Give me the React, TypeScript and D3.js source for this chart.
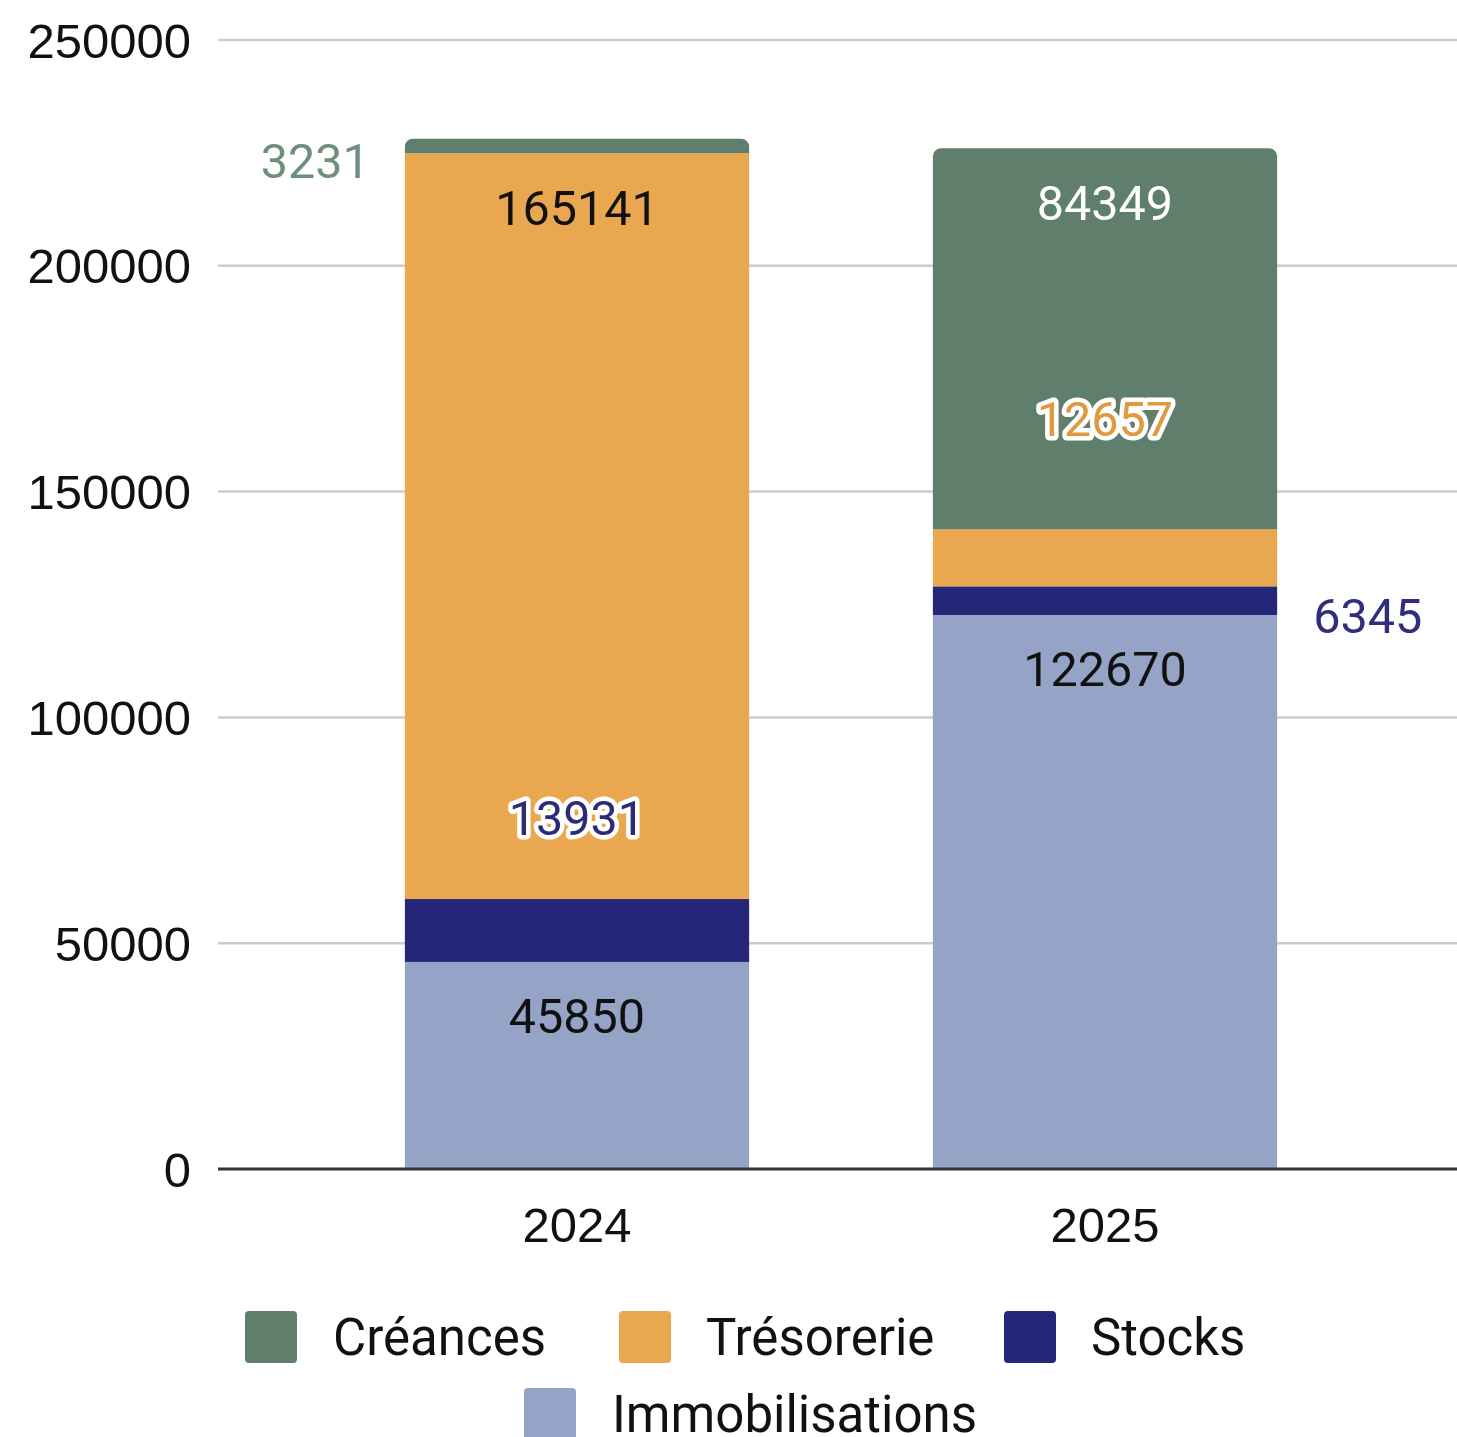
import * as d3 from "d3";

// chart data
const years = ["2024", "2025"];
const seriesNames = ["Immobilisations", "Stocks", "Trésorerie", "Créances"];
const immobilisations = [45850, 122670];
const stocks = [13931, 6345];
const tresorerie = [165141, 12657];
const creances = [3231, 84349];
const yTicks = [0, 50000, 100000, 150000, 200000, 250000];

const colors: Record<string, string> = {
  "Créances": "#5f7e6b",
  "Trésorerie": "#e9a74f",
  "Stocks": "#262679",
  "Immobilisations": "#95a4c6",
};

// how Google placed each value label (inside, beside, or pushed up with a halo)
const labelStyle: Record<string, { mode: string; fill: string; dy?: number }> = {
  "Immobilisations-2024": { mode: "inside", fill: "#111" },
  "Immobilisations-2025": { mode: "inside", fill: "#111" },
  "Stocks-2024": { mode: "halo", fill: "#2b2b78", dy: -81 },
  "Stocks-2025": { mode: "right", fill: "#2e2e7c" },
  "Trésorerie-2024": { mode: "inside", fill: "#111" },
  "Trésorerie-2025": { mode: "halo", fill: "#e09a3e", dy: -111 },
  "Créances-2024": { mode: "left", fill: "#6f8f7c" },
  "Créances-2025": { mode: "inside", fill: "#ffffff" },
};

const width = 1457;
const height = 1437;

export default function App() {
  const rows = years.map((year, i) => ({
    year,
    Immobilisations: immobilisations[i],
    Stocks: stocks[i],
    "Trésorerie": tresorerie[i],
    "Créances": creances[i],
  }));

  const stacked = d3.stack<any>().keys(seriesNames)(rows);

  const x = d3.scaleBand()
    .domain(years)
    .range([313, 1369])
    .paddingInner(0.348)
    .paddingOuter(0.174);

  const y = d3.scaleLinear().domain([0, 250000]).range([1169, 40]);

  const gridLeft = 218;
  const gridRight = 1457;
  const bw = x.bandwidth();
  const r = 8;

  // rounded-top rectangle for the last segment of each bar
  const roundTop = (x0: number, y0: number, w: number, h: number) => {
    const p = d3.path();
    p.moveTo(x0, y0 + h);
    p.lineTo(x0, y0 + r);
    p.arcTo(x0, y0, x0 + r, y0, r);
    p.lineTo(x0 + w - r, y0);
    p.arcTo(x0 + w, y0, x0 + w, y0 + r, r);
    p.lineTo(x0 + w, y0 + h);
    p.closePath();
    return p.toString();
  };

  const dataFont = "Roboto, 'Liberation Sans', sans-serif";
  const axisFont = "'Liberation Sans', Arial, sans-serif";

  const labels: any[] = [];
  stacked.forEach((layer) => {
    layer.forEach((d: any) => {
      const year = d.data.year;
      const name = layer.key;
      const st = labelStyle[`${name}-${year}`];
      const x0 = x(year)!;
      const top = y(d[1]);
      const bottom = y(d[0]);
      let lx = x0 + bw / 2;
      let ly = top + 54;
      let anchor = "middle";
      if (st.mode === "left") {
        lx = x0 - 35;
        ly = (top + bottom) / 2 + 15;
        anchor = "end";
      } else if (st.mode === "right") {
        lx = x0 + bw + 36;
        ly = (top + bottom) / 2 + 15;
        anchor = "start";
      } else if (st.mode === "halo") {
        ly = top + (st.dy || 0);
      }
      labels.push({ key: `${name}-${year}`, text: String(d[1] - d[0]), lx, ly, anchor, st });
    });
  });

  const legendItems = [
    { name: "Créances", sx: 245, tx: 333, cy: 1337 },
    { name: "Trésorerie", sx: 619, tx: 706, cy: 1337 },
    { name: "Stocks", sx: 1004, tx: 1091, cy: 1337 },
    { name: "Immobilisations", sx: 524, tx: 612, cy: 1414 },
  ];

  return (
    <svg
      width={width}
      height={height}
      viewBox={`0 0 ${width} ${height}`}
      style={{ position: "absolute", left: 0, top: 0, background: "#fff" }}
    >
      <rect width={width} height={height} fill="#fff" />

      {/* gridlines + y ticks */}
      {yTicks.map((t) => (
        <g key={t}>
          {t !== 0 && (
            <line x1={gridLeft} x2={gridRight} y1={y(t)} y2={y(t)} stroke="#cccccc" strokeWidth={2.5} />
          )}
          <text x={191} y={y(t)} dy="0.36em" textAnchor="end" fontFamily={axisFont} fontSize={49} fill="#111">
            {t}
          </text>
        </g>
      ))}

      {/* bars */}
      {stacked.map((layer, li) =>
        layer.map((d: any) => {
          const year = d.data.year;
          const x0 = x(year)!;
          const top = y(d[1]);
          const h = y(d[0]) - top;
          if (li === stacked.length - 1) {
            return <path key={layer.key + year} d={roundTop(x0, top, bw, h)} fill={colors[layer.key]} />;
          }
          return <rect key={layer.key + year} x={x0} y={top} width={bw} height={h} fill={colors[layer.key]} />;
        })
      )}

      {/* baseline */}
      <line x1={gridLeft} x2={gridRight} y1={y(0)} y2={y(0)} stroke="#333" strokeWidth={3} />

      {/* x labels */}
      {years.map((yr) => (
        <text
          key={yr}
          x={x(yr)! + bw / 2}
          y={1224}
          dy="0.36em"
          textAnchor="middle"
          fontFamily={axisFont}
          fontSize={49}
          fill="#111"
        >
          {yr}
        </text>
      ))}

      {/* value labels */}
      {labels.map((l) => (
        <text
          key={l.key}
          x={l.lx}
          y={l.ly}
          dy="0.36em"
          textAnchor={l.anchor}
          fontFamily={dataFont}
          fontSize={48.5}
          fill={l.st.fill}
          stroke={l.st.mode === "halo" ? "#ffffff" : "none"}
          strokeWidth={l.st.mode === "halo" ? 9 : 0}
          strokeLinejoin="round"
          style={{ paintOrder: "stroke" }}
        >
          {l.text}
        </text>
      ))}

      {/* legend */}
      {legendItems.map((e) => (
        <g key={e.name}>
          <rect x={e.sx} y={e.cy - 26} width={52} height={52} rx={4} fill={colors[e.name]} />
          <text x={e.tx} y={e.cy} dy="0.36em" fontFamily={dataFont} fontSize={51} fill="#111">
            {e.name}
          </text>
        </g>
      ))}
    </svg>
  );
}
